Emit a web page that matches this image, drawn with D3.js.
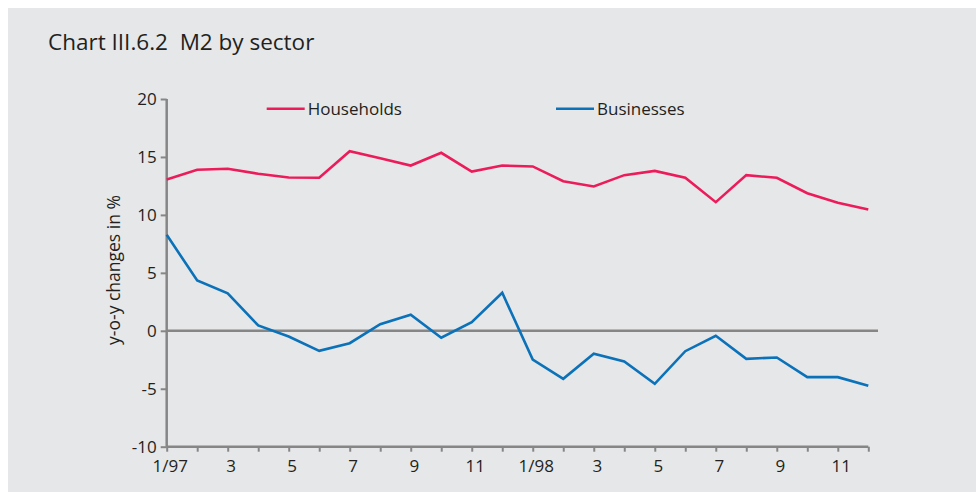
<!DOCTYPE html>
<html>
<head>
<meta charset="utf-8">
<script src="https://cdn.jsdelivr.net/npm/d3@7"></script>
<style>
  html, body { margin: 0; padding: 0; background: #ffffff; }
  svg { display: block; }
  text { font-family: "Open Sans", Lato, sans-serif; fill: #231f20; }
</style>
</head>
<body>
<svg id="chart" width="976" height="492"></svg>
<script>
// ---- data ----
const months = d3.range(24); // Jan 1997 .. Dec 1998
const xTickLabels = ["1/97", "", "3", "", "5", "", "7", "", "9", "", "11", "",
                     "1/98", "", "3", "", "5", "", "7", "", "9", "", "11", ""];
const households = [13.05, 13.89, 13.98, 13.55, 13.23, 13.2, 15.5, 14.89, 14.26, 15.36, 13.74, 14.26,
                    14.18, 12.91, 12.45, 13.43, 13.8, 13.2, 11.1, 13.43, 13.2, 11.87, 11.04, 10.47];
const businesses = [8.28, 4.34, 3.24, 0.46, -0.49, -1.73, -1.07, 0.57, 1.38, -0.6, 0.74, 3.28,
                    -2.49, -4.14, -1.98, -2.65, -4.57, -1.76, -0.43, -2.42, -2.3, -4.0, -4.0, -4.75];
const yTicks = [-10, -5, 0, 5, 10, 15, 20];
const seriesNames = ["Households", "Businesses"];
const seriesColors = ["#ec1c5b", "#0b72b9"];

// ---- layout ----
const svg = d3.select("#chart");
const axisColor = "#868686";
const fontFam = "'Open Sans', Lato, sans-serif";

svg.append("rect").attr("x", 8).attr("y", 8).attr("width", 968).attr("height", 484)
  .attr("fill", "#e6e7e9");

svg.append("text").attr("x", 48).attr("y", 50)
  .attr("xml:space", "preserve").style("white-space", "pre")
  .style("font-size", "22.5px").text("Chart III.6.2  M2 by sector");

const x = d3.scaleLinear().domain([0, 23]).range([166.7, 868.3]);
const y = d3.scaleLinear().domain([-10, 20]).range([446.7, 99]);

// zero line
svg.append("line")
  .attr("x1", x(0)).attr("x2", 878)
  .attr("y1", y(0)).attr("y2", y(0))
  .attr("stroke", axisColor).attr("stroke-width", 2.5);

// y axis
const yAxis = svg.append("g").attr("transform", `translate(${x(0)},0)`)
  .call(d3.axisLeft(y).tickValues(yTicks).tickSize(6).tickPadding(4).tickFormat(d => String(d)));
yAxis.select(".domain").attr("stroke", axisColor).attr("stroke-width", 2.5).attr("d", `M0,${y(20)}V${y(-10)}`);
yAxis.selectAll(".tick line").attr("stroke", axisColor).attr("stroke-width", 2);
yAxis.selectAll(".tick text").style("font-size", "17px").attr("fill", "#231f20")
  .style("font-family", fontFam);

// x axis
const xAxis = svg.append("g").attr("transform", `translate(0,${y(-10)})`)
  .call(d3.axisBottom(x).tickValues(months).tickSize(5).tickPadding(8)
    .tickFormat((d, i) => xTickLabels[i]));
xAxis.select(".domain").attr("stroke", axisColor).attr("stroke-width", 2.5).attr("d", `M${x(0)},0H${x(23)}`);
xAxis.selectAll(".tick line").attr("stroke", axisColor).attr("stroke-width", 2);
xAxis.selectAll(".tick text").style("font-size", "17px").attr("fill", "#231f20")
  .attr("dx", 3).style("font-family", fontFam);

// y axis title
svg.append("text")
  .attr("transform", `translate(120,${270}) rotate(-90)`)
  .attr("text-anchor", "middle")
  .style("font-size", "17.5px")
  .text("y-o-y changes in %");

// lines
const line = d3.line().x((d, i) => x(months[i])).y(d => y(d));
[households, businesses].forEach((s, k) => {
  svg.append("path").datum(s).attr("d", line)
    .attr("fill", "none").attr("stroke", seriesColors[k]).attr("stroke-width", 2.6)
    .attr("stroke-linejoin", "miter");
});

// legend
const legendX = [266.7, 556];
seriesNames.forEach((n, k) => {
  svg.append("line").attr("x1", legendX[k]).attr("x2", legendX[k] + 38)
    .attr("y1", 108.7).attr("y2", 108.7)
    .attr("stroke", seriesColors[k]).attr("stroke-width", 2.6);
  svg.append("text").attr("x", legendX[k] + 41).attr("y", 115)
    .style("font-size", "17px").text(n);
});
</script>
</body>
</html>
